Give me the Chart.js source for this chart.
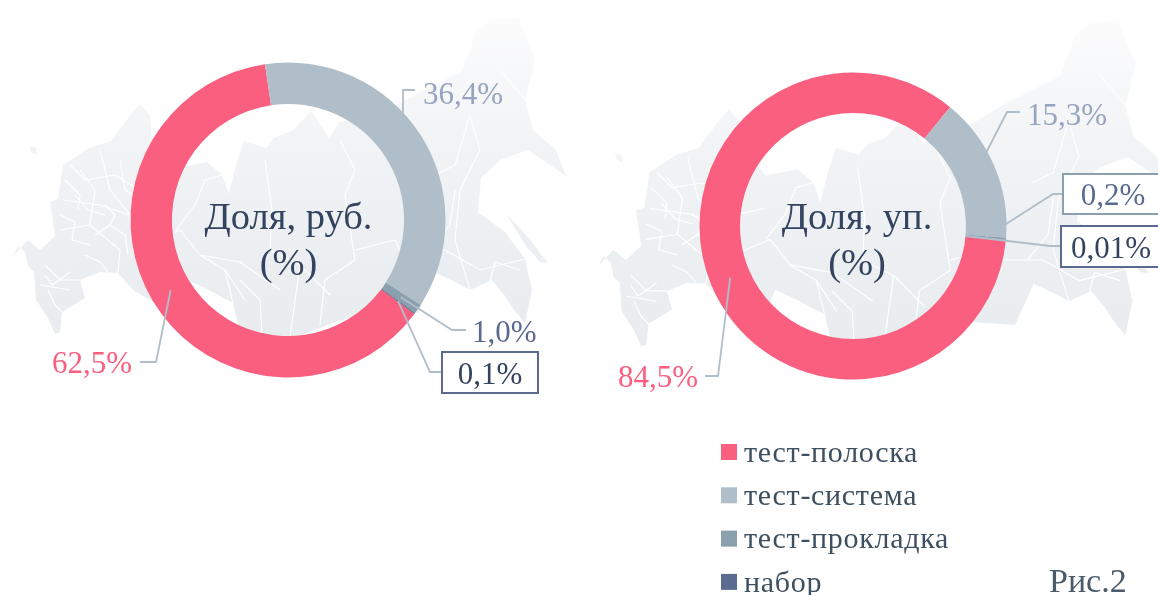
<!DOCTYPE html>
<html lang="ru"><head><meta charset="utf-8">
<script src="https://cdn.jsdelivr.net/npm/chart.js@4"></script>
<style>html,body{margin:0;padding:0;background:#fff;overflow:hidden;width:1158px;height:595px}
canvas{position:absolute;left:0;top:0}</style></head><body>
<canvas id="a" width="1158" height="595"></canvas>
<canvas id="b" width="1158" height="595"></canvas>
<script>
const categories = ['тест-полоска','тест-система','тест-прокладка','набор'];
const rubValues = [62.5,36.4,1.0,0.1];
const unitValues = [84.5,15.3,0.2,0.01];
const rubLabels = ['62,5%','36,4%','1,0%','0,1%'];
const unitLabels = ['84,5%','15,3%','0,2%','0,01%'];
const rubTitle = ['Доля, руб.','(%)'];
const unitTitle = ['Доля, уп.','(%)'];
const figureLabel = 'Рис.2';
const colors = ['#fa5f7f','#b0bec9','#8aa0ae','#5a6a90'];

const FONT = '"Liberation Serif", serif';
const LINE = '#b0bec9';

// decorative background silhouette (left-panel pixel frame)
const mapOutline = [[13,256],[18,246],[25,252],[28,266],[34,272],[36,300],[48,318],[55,334],[60,332],[62,312],[85,298],[80,280],[100,272],[118,273],[133,290],[155,303],[178,296],[185,279],[205,288],[233,303],[240,333],[296,337],[333,323],[372,310],[418,313],[436,273],[455,282],[470,290],[492,280],[505,296],[514,310],[525,323],[532,290],[525,259],[505,232],[478,212],[481,178],[500,160],[528,150],[566,176],[556,150],[533,130],[525,100],[535,60],[518,17],[490,20],[477,30],[462,71],[403,101],[376,118],[340,121],[329,138],[311,111],[292,131],[274,138],[266,148],[244,141],[236,165],[229,194],[222,175],[207,162],[176,168],[152,140],[150,115],[140,104],[128,118],[111,141],[89,148],[63,165],[58,199],[50,202],[55,236],[40,250],[28,240]];
const sakhalin = [[507,215],[520,228],[534,245],[548,263],[540,262],[525,245]];
const kalin = [[29,146],[36,148],[37,155],[32,153]];
const regionLines = [
 [[80,170],[95,190],[90,225],[120,250],[118,273]],[[63,200],[100,205],[130,215],[133,250],[155,270]],
 [[60,230],[90,225]],[[100,150],[110,190],[130,215]],[[70,165],[85,180],[115,175],[140,190]],
 [[45,265],[60,280],[80,280]],[[40,285],[70,290]],[[133,250],[180,230],[200,255],[225,270],[233,303]],
 [[176,230],[195,205],[205,180],[222,175]],[[265,160],[272,210],[270,250],[300,265],[290,337]],
 [[200,255],[240,262],[280,290]],[[340,140],[355,170],[345,195],[355,260],[325,280],[320,325]],
 [[355,250],[395,240],[405,260],[380,290],[372,310]],[[470,115],[480,150],[460,190],[455,240],[470,290]],
 [[403,250],[445,250],[480,270],[525,259]],[[500,70],[525,100]],[[240,280],[260,300],[262,335]],
 [[60,215],[75,222],[72,240],[90,245]],[[75,195],[88,210],[105,215]],[[65,180],[80,195],[78,210]],
 [[95,235],[110,225],[125,235],[128,255]],[[105,205],[115,215],[110,225]],[[85,255],[100,262],[108,272]],
 [[48,290],[55,305],[62,312]],[[45,275],[52,285],[70,272]],[[120,160],[125,190],[150,205],[175,200]],
 [[225,270],[245,300]],[[300,265],[330,295]],[[435,175],[455,165],[470,115]],[[430,250],[450,225],[455,190]],
 [[490,282],[495,262],[520,270]]
];
function tracePoly(c,pts){c.beginPath();pts.forEach((p,i)=>i?c.lineTo(p[0],p[1]):c.moveTo(p[0],p[1]));c.closePath();}
function drawMap(c,ox,oy,s){
  c.save();c.translate(ox,oy);c.scale(s,s);
  const g=c.createLinearGradient(0,17,0,337);g.addColorStop(0,'#fcfcfd');g.addColorStop(.4,'#f1f3f5');g.addColorStop(1,'#e8ecef');
  c.fillStyle=g;
  [mapOutline,sakhalin,kalin].forEach(p=>{tracePoly(c,p);c.fill();});
  c.strokeStyle='#fff';c.lineWidth=1.1;c.lineJoin='round';
  regionLines.forEach(l=>{c.beginPath();l.forEach((p,i)=>i?c.lineTo(p[0],p[1]):c.moveTo(p[0],p[1]));c.stroke();});
  c.restore();
}
function boxedText(c,t,box,border,color,size){
  c.fillStyle='#fff';c.fillRect(box[0],box[1],box[2],box[3]);
  c.strokeStyle=border;c.lineWidth=2;c.strokeRect(box[0],box[1],box[2],box[3]);
  c.fillStyle=color;c.font=size+'px '+FONT;c.textAlign='center';c.textBaseline='middle';
  c.fillText(t,box[0]+box[2]/2,box[1]+box[3]/2+3);
}
function makeChart(id,values,rotation,cfg){
  const W=1158,H=595;
  new Chart(document.getElementById(id),{
    type:'doughnut',
    data:{labels:categories,datasets:[{data:values,backgroundColor:colors,borderWidth:0}]},
    options:{
      responsive:false,animation:false,rotation:rotation,cutout:cfg.cutout,
      layout:{padding:{left:cfg.cx-cfg.r,right:W-cfg.cx-cfg.r,top:cfg.cy-cfg.r,bottom:H-cfg.cy-cfg.r}},
      plugins:{legend:{display:false},tooltip:{enabled:false}}
    },
    plugins:[{id:'deco',
      beforeDraw(ch){drawMap(ch.ctx,cfg.map[0],cfg.map[1],cfg.map[2]);},
      afterDraw(ch){
        const c=ch.ctx,arcs=ch.getDatasetMeta(0).data;
        c.save();
        c.strokeStyle=LINE;c.lineWidth=1.8;c.lineJoin='miter';
        cfg.leaders.forEach((l,i)=>{
          const el=arcs[i];let st=el.tooltipPosition();
          if(l.inner){const mid=(el.startAngle+el.endAngle)/2;st={x:el.x+el.innerRadius*Math.cos(mid),y:el.y+el.innerRadius*Math.sin(mid)};}
          c.beginPath();c.moveTo(st.x,st.y);l.path.forEach(p=>c.lineTo(p[0],p[1]));c.stroke();
        });
        cfg.texts.forEach(t=>{
          if(t.box){boxedText(c,cfg.labels[t.i],t.box,t.border,t.color,cfg.labelSize);return;}
          c.fillStyle=t.color;c.font=cfg.labelSize+'px '+FONT;c.textAlign=t.align;c.textBaseline='middle';
          c.fillText(cfg.labels[t.i],t.x,t.y);
        });
        c.fillStyle='#34435f';c.font=cfg.titleSize+'px '+FONT;c.textAlign='center';c.textBaseline='middle';
        cfg.title.forEach((t,i)=>c.fillText(t,cfg.titleX,cfg.titleY+i*46));
        if(cfg.legend){
          categories.forEach((name,i)=>{
            const y=444+i*43.3;
            c.fillStyle=colors[i];c.fillRect(721,y,16,16);
            c.fillStyle='#3e4f5f';c.font='30px '+FONT;c.letterSpacing='0.7px';c.textAlign='left';c.textBaseline='middle';
            c.fillText(name,744,y+10);
          });
          c.letterSpacing='0px';
          c.fillStyle='#4a5b6b';c.font='34px '+FONT;c.textAlign='left';c.textBaseline='middle';
          c.fillText(figureLabel,1049,583);
        }
        c.restore();
      }}]
  });
}
makeChart('a',rubValues,126.6,{cx:288,cy:220,r:157.5,cutout:'73.7%',map:[0,0,1],labels:rubLabels,title:rubTitle,titleSize:38.5,titleX:288.5,titleY:219,labelSize:31,
  leaders:[{path:[[156,362],[140,362]]},{path:[[403,90],[415,90]]},{path:[[452,330],[466,330]]},{path:[[430,372],[442,372]]}],
  texts:[{i:0,x:132,y:365,align:'right',color:'#fa5f7f'},{i:1,x:423,y:96,align:'left',color:'#97a4c0'},{i:2,x:472,y:334,align:'left',color:'#5a6a90'},
         {i:3,box:[442,352,96,41],border:'#5a6a90',color:'#34435f'}]});
makeChart('b',unitValues,95.1,{cx:853,cy:226,r:153.5,cutout:'73.6%',map:[584.6,2.5,1.03],labels:unitLabels,title:unitTitle,titleSize:38.5,titleX:857,titleY:219,labelSize:31,legend:true,
  leaders:[{path:[[718,376],[705,376]]},{path:[[1007,112],[1020,112]]},{path:[[1053,194],[1062,194]]},{inner:true,path:[[1050,246],[1060,246]]}],
  texts:[{i:0,x:698,y:379,align:'right',color:'#fa5f7f'},{i:1,x:1027,y:117,align:'left',color:'#97a4c0'},
         {i:2,box:[1063,174,100,40],border:'#8aa0ae',color:'#5a6a90'},{i:3,box:[1061,226,100,41],border:'#5a6a90',color:'#34435f'}]});
</script></body></html>
